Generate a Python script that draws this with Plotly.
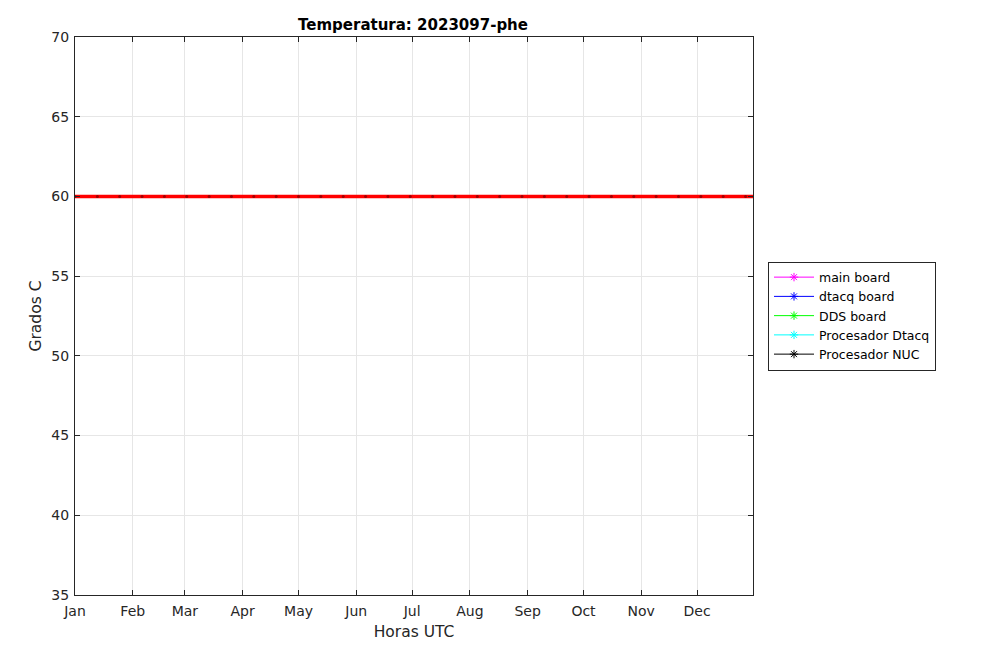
import plotly.graph_objects as go

# Data
threshold_dates = [
    "2023-01-01", "2023-01-13", "2023-01-25", "2023-02-06", "2023-02-18",
    "2023-03-02", "2023-03-14", "2023-03-26", "2023-04-07", "2023-04-19",
    "2023-05-01", "2023-05-13", "2023-05-25", "2023-06-06", "2023-06-18",
    "2023-06-30", "2023-07-12", "2023-07-24", "2023-08-05", "2023-08-17",
    "2023-08-29", "2023-09-10", "2023-09-22", "2023-10-04", "2023-10-16",
    "2023-10-28", "2023-11-09", "2023-11-21", "2023-12-03", "2023-12-15",
    "2023-12-27", "2024-01-08",
]
threshold_values = [60, 60, 60, 60, 60, 60, 60, 60, 60, 60, 60, 60, 60, 60, 60, 60,
                    60, 60, 60, 60, 60, 60, 60, 60, 60, 60, 60, 60, 60, 60, 60, 60]

series_names = ["main board", "dtacq board", "DDS board", "Procesador Dtacq", "Procesador NUC"]
series_colors = ["#ff00ff", "#0000ff", "#00ff00", "#00ffff", "#000000"]

month_ticks = ["2023-01-01", "2023-02-01", "2023-03-01", "2023-04-01", "2023-05-01",
               "2023-06-01", "2023-07-01", "2023-08-01", "2023-09-01", "2023-10-01",
               "2023-11-01", "2023-12-01"]
month_labels = ["Jan", "Feb", "Mar", "Apr", "May", "Jun", "Jul", "Aug", "Sep", "Oct", "Nov", "Dec"]

# page body has an 8px offset in the browser
OFF = 8
W, H = 1008, 661
L, R, T, B = 75, 753, 37, 595  # target plot-area edges on screen

fig = go.Figure()

fig.add_trace(go.Scatter(
    x=threshold_dates, y=threshold_values, mode="lines+markers", showlegend=False,
    line=dict(color="#ff0000", width=3.5),
    marker=dict(symbol="circle", size=3, color="#a00000"),
    cliponaxis=True,
))

for name, color in zip(series_names, series_colors):
    fig.add_trace(go.Scatter(
        x=[None], y=[None], name=name, mode="lines+markers",
        line=dict(color=color, width=1),
        marker=dict(symbol="asterisk-open", size=7, color=color, line=dict(color=color, width=1)),
    ))

axis_common = dict(
    showline=True, linecolor="#262626", linewidth=1, mirror="ticks",
    ticks="inside", ticklen=5, tickcolor="#262626",
    showgrid=True, gridcolor="#e6e6e6", gridwidth=1, zeroline=False,
    tickfont=dict(family="DejaVu Sans", size=14, color="#262626"),
    automargin=False,
)

fig.update_layout(
    width=W, height=H,
    paper_bgcolor="white", plot_bgcolor="white",
    margin=dict(l=L - OFF, r=W - (R - OFF), t=T - OFF, b=H - (B - OFF), autoexpand=False),
    font=dict(family="DejaVu Sans", color="#262626"),
    title=dict(text="<b>Temperatura: 2023097-phe</b>", x=(413 - OFF) / W, xanchor="center",
               y=1 - (25 - OFF) / H, yanchor="middle",
               font=dict(family="DejaVu Sans", size=15, color="#000000")),
    xaxis=dict(
        type="date",
        range=["2023-01-01", "2023-12-31"],
        tickvals=month_ticks, ticktext=month_labels,
        ticklabelstandoff=3,
        title=dict(text="Horas UTC", font=dict(family="DejaVu Sans", size=15.5, color="#262626"), standoff=8),
        **axis_common,
    ),
    yaxis=dict(
        range=[35, 70], dtick=5,
        ticklabelstandoff=2,
        title=dict(text="Grados C", font=dict(family="DejaVu Sans", size=15.5, color="#262626"), standoff=5),
        **axis_common,
    ),
    legend=dict(
        x=(768 - L) / (R - L), xref="paper", y=(B - 316) / (B - T), yref="paper",
        xanchor="left", yanchor="middle",
        bgcolor="white", bordercolor="#262626", borderwidth=1,
        font=dict(family="DejaVu Sans", size=12.5, color="#000000"),
        tracegroupgap=0, itemwidth=40,
    ),
)

fig.write_html("out.html")
